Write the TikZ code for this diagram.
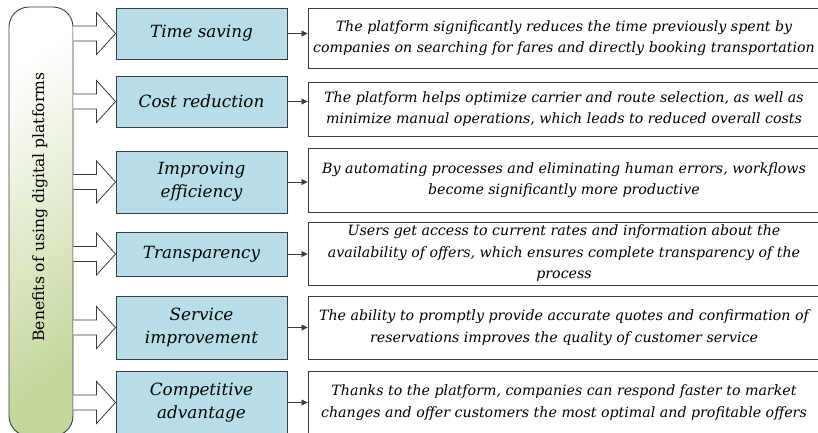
\documentclass[tikz,border=0pt]{standalone}
\usepackage{fontspec}
\setmainfont{DejaVu Serif}
\usetikzlibrary{calc,arrows.meta}
\definecolor{aquafill}{HTML}{B7DEE8}
\definecolor{olivefill}{HTML}{C3D69B}
\definecolor{edgegray}{HTML}{3C3C3C}

\tikzset{
  sidebox/.style={draw=edgegray, line width=0.9pt, rounded corners=20pt,
    top color=white, bottom color=olivefill, shading angle=35,
    minimum width=64pt, minimum height=429pt, inner sep=0pt},
  sidetext/.style={rotate=90, font=\fontsize{15.6}{18}\selectfont},
  benefit/.style={draw=edgegray, line width=0.9pt, fill=aquafill,
    minimum width=171pt, inner sep=0pt, align=center,
    font=\itshape\fontsize{16.8}{23}\selectfont},
  detail/.style={draw=edgegray, line width=0.9pt, fill=white,
    minimum width=512pt, inner sep=0pt, align=center,
    font=\itshape\fontsize{14.2}{21.5}\selectfont},
  blockarrow/.style={draw=edgegray, line width=0.8pt, fill=white, line join=miter},
  link/.style={draw=edgegray, line width=0.8pt, -{Triangle[length=6pt,width=6pt]}}
}

\begin{document}
\begin{tikzpicture}[x=1pt, y=-1pt]
\useasboundingbox (0,0) rectangle (818,432);
\clip (0,0) rectangle (818,432);

% left column
\node[sidebox] (L) at (41,221.5) {};
\node[sidetext] (Ltext) at (40,207) {Benefits of using digital platforms};

% benefit boxes
\node[benefit, minimum height=51pt] (B1) at (201.5,33.5)  {Time saving};
\node[benefit, minimum height=51pt] (B2) at (201.5,101.5) {Cost reduction};
\node[benefit, minimum height=62pt] (B3) at (201.5,182)   {Improving\\efficiency};
\node[benefit, minimum height=44pt] (B4) at (201.5,254)   {Transparency};
\node[benefit, minimum height=63pt] (B5) at (201.5,327.5) {Service\\improvement};
\node[benefit, minimum height=63pt] (B6) at (201.5,402.5) {Competitive\\advantage};

% description boxes
\node[detail, minimum height=60pt] (R1) at (564,38)    {The platform significantly reduces the time previously spent by\\companies on searching for fares and directly booking transportation};
\node[detail, minimum height=54pt] (R2) at (564,109)   {The platform helps optimize carrier and route selection, as well as\\minimize manual operations, which leads to reduced overall costs};
\node[detail, minimum height=64pt] (R3) at (564,180)   {By automating processes and eliminating human errors, workflows\\become significantly more productive};
\node[detail, minimum height=63pt] (R4) at (564,253.5) {Users get access to current rates and information about the\\availability of offers, which ensures complete transparency of the\\process};
\node[detail, minimum height=63pt] (R5) at (564,327.5) {The ability to promptly provide accurate quotes and confirmation of\\reservations improves the quality of customer service};
\node[detail, minimum height=63pt] (R6) at (564,402.5) {Thanks to the platform, companies can respond faster to market\\changes and offer customers the most optimal and profitable offers};

% block arrows from the left column and thin links to the descriptions
\foreach \i in {1,...,6}{
  \coordinate (s\i) at (L.east |- B\i.west);
  \draw[blockarrow]
    ($(s\i)+(0,-7.5)$) -- ($(B\i.west)+(-19,-7.5)$) -- ($(B\i.west)+(-19,-21)$)
    -- (B\i.west) -- ($(B\i.west)+(-19,21)$) -- ($(B\i.west)+(-19,7.5)$)
    -- ($(s\i)+(0,7.5)$);
  \draw[link] (B\i.east) -- (R\i.west |- B\i.east);
}
\end{tikzpicture}
\end{document}
